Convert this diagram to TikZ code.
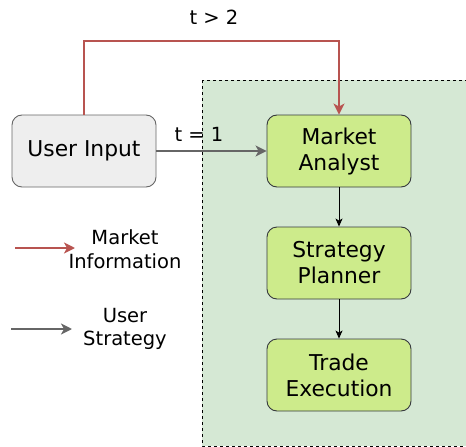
\documentclass[tikz,border=0pt]{standalone}
\usepackage{fontspec}
\setmainfont{DejaVu Sans}
\usetikzlibrary{arrows.meta}
\definecolor{infored}{HTML}{B85450}
\definecolor{userGray}{HTML}{666666}
\definecolor{boxGray}{HTML}{EEEEEE}
\definecolor{agentGreen}{HTML}{CDEB8B}
\definecolor{agentEdge}{HTML}{36393D}
\definecolor{panelGreen}{HTML}{D5E8D4}
\tikzset{
  box/.style={draw=agentEdge, line width=0.9pt, rounded corners=10pt,
    minimum width=144pt, minimum height=72pt, align=center,
    font=\fontsize{21.8}{26}\selectfont, inner sep=0pt},
  agent/.style={box, fill=agentGreen},
  userbox/.style={box, fill=boxGray, draw=userGray},
  lbl/.style={font=\fontsize{19.5}{23.5}\selectfont, align=center, inner sep=0pt},
  redarrow/.style={draw=infored, line width=1.8pt, -{Stealth[length=11pt,width=11pt,inset=3pt]}},
  grayarrow/.style={draw=userGray, line width=1.8pt, -{Stealth[length=11pt,width=11pt,inset=3pt]}},
  flow/.style={draw=black, line width=0.9pt, -{Stealth[length=8pt,width=7pt,inset=2pt]}}
}
\begin{document}
\begin{tikzpicture}[x=1pt,y=-1pt]
\useasboundingbox (0,0) rectangle (466,447);
% agent panel
\draw[fill=panelGreen, dashed, line width=0.9pt] (202,80) rectangle (470,446);
% nodes
\node[userbox] (user) at (84,151) {User Input};
\node[agent] (analyst) at (339,151) {Market\\Analyst};
\node[agent] (planner) at (339,263) {Strategy\\Planner};
\node[agent] (exec) at (339,375) {Trade\\Execution};
% connectors
\draw[redarrow] (user.north) |- (339,41) -- (analyst.north);
\node[lbl] (tgt) at (214,17) {t > 2};
\draw[grayarrow] (user.east) -- (analyst.west);
\node[lbl] (teq) at (199,134) {t = 1};
\draw[flow] (analyst) -- (planner);
\draw[flow] (planner) -- (exec);
% legend
\coordinate (r0) at (15,248);
\coordinate (r1) at (75,248);
\draw[redarrow] (r0) -- (r1);
\node[lbl] (lmi) at (125,249) {Market\\Information};
\coordinate (g0) at (11,329);
\coordinate (g1) at (72,329);
\draw[grayarrow] (g0) -- (g1);
\node[lbl] (lus) at (125,329) {User\\Strategy};
\end{tikzpicture}
\end{document}
